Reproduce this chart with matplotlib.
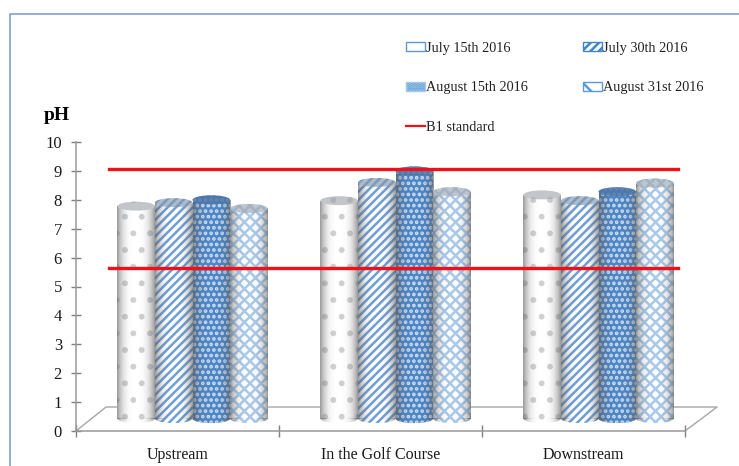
import numpy as np
import matplotlib
matplotlib.use('Agg')
import matplotlib.pyplot as plt
from matplotlib.lines import Line2D
from matplotlib.patches import Ellipse, Patch

categories = ['Upstream', 'In the Golf Course', 'Downstream']
series_names = ['July 15th 2016', 'July 30th 2016', 'August 15th 2016', 'August 31st 2016']
july15 = [7.78, 7.97, 8.17]
july30 = [7.9, 8.6, 7.97]
august15 = [8.0, 9.0, 8.28]
august31 = [7.7, 8.28, 8.58]
b1_upper = 9.07
b1_lower = 5.65
y_ticks = [0, 1, 2, 3, 4, 5, 6, 7, 8, 9, 10]

series = [july15, july30, august15, august31]
faces = ['#ffffff', '#ffffff', '#4f86c6', '#ffffff']
hatch_colors = ['#cdd1d6', '#6f9fd6', '#cfe2f5', '#a9c9ea']
hatches = ['.', '////', '...', 'xxx']
top_colors = ['#c2c5c9', '#a9bccf', '#4f78a8', '#bcc6d0']
top_hatch_colors = ['#aeb2b8', '#7f98b4', '#5f88b8', '#a4b2c2']
legend_faces = ['#ffffff', '#ffffff', '#5b9bd5', '#ffffff']
legend_edges = ['#5b9bd5', '#3f83c8', '#a4c8ea', '#5b9bd5']
legend_hatches = ['', '////', '.....', 'x']

plt.rcParams['font.family'] = ['Liberation Serif', 'DejaVu Serif']
plt.rcParams['hatch.linewidth'] = 1.8

fig = plt.figure(figsize=(7.39, 4.66), dpi=100)
ax = fig.add_axes([76 / 739, 35 / 466, 609 / 739, 289 / 466])

bar_width = 0.185
base = 0.43
cap = 0.31
shift = 0.074

# dark at both sides so the bars look round
t = np.linspace(-1, 1, 64)
shade = np.zeros((1, 64, 4))
shade[..., :3] = 0.35
shade[..., 3] = np.abs(t) ** 3 * 0.6


def put_shade(x0, x1, y0, y1, clip, z):
    im = ax.imshow(shade, extent=(x0, x1, y0, y1), aspect='auto', zorder=z, interpolation='bilinear')
    im.set_clip_path(clip)


for s, values in enumerate(series):
    for c, v in enumerate(values):
        x = c + 0.5 + shift + (s - 1.5) * bar_width
        x0, x1 = x - bar_width / 2, x + bar_width / 2
        z = 3 + s * 0.1
        foot = Ellipse((x, base), bar_width, cap, facecolor=faces[s], edgecolor=hatch_colors[s],
                       hatch=hatches[s], linewidth=0, zorder=z)
        ax.add_patch(foot)
        body = ax.bar(x, v - base, bar_width, bottom=base, color=faces[s], edgecolor=hatch_colors[s],
                      hatch=hatches[s], linewidth=0, zorder=z)[0]
        put_shade(x0, x1, base, v, body, z + 0.01)
        put_shade(x0, x1, base - cap / 2, base, foot, z + 0.01)
        ax.add_patch(Ellipse((x, v), bar_width, cap, facecolor=top_colors[s], edgecolor=top_hatch_colors[s],
                             hatch=hatches[s], linewidth=0, zorder=z + 0.02))

# 3d floor
ax.plot([0, 0.148, 3.158, 3.0], [0, 0.83, 0.83, 0], color='#a6a6a6', lw=1, clip_on=False, zorder=1)

line_x = [0.163, 2.965]
ax.plot(line_x, [b1_upper, b1_upper], color='#f01018', lw=2.4, zorder=5)
ax.plot(line_x, [b1_lower, b1_lower], color='#f01018', lw=2.4, zorder=5)

ax.set_xlim(0, 3)
ax.set_ylim(0, 10)
ax.set_yticks(y_ticks)
ax.set_xticks([0, 1, 2, 3])
ax.set_xticklabels([])
ax.set_xticks([0.5, 1.5, 2.5], minor=True)
ax.set_xticklabels(categories, minor=True, fontsize=11.5, color='#1a1a1a')
ax.tick_params(axis='x', which='major', direction='inout', length=8, color='#808080', width=1)
ax.tick_params(axis='x', which='minor', length=0, pad=11.5)
ax.tick_params(axis='y', direction='inout', length=7.2, color='#808080', width=1, labelsize=12,
               labelcolor='#1a1a1a', pad=6.5)
for side in ['top', 'right']:
    ax.spines[side].set_visible(False)
for side in ['left', 'bottom']:
    ax.spines[side].set_color('#999999')
    ax.spines[side].set_linewidth(1.1)

ax.text(-0.096, 10.9, 'pH', fontsize=14, fontweight='bold', ha='center', va='center', clip_on=False)

handles = [Patch(facecolor=legend_faces[s], edgecolor=legend_edges[s], hatch=legend_hatches[s], lw=1)
           for s in range(4)]
red = Line2D([0], [0], color='#f01018', lw=1.6)
# columns fill first, so this gives the rows July/July, August/August, B1
legend_handles = [handles[0], handles[2], red, handles[1], handles[3]]
legend_labels = [series_names[0], series_names[2], 'B1 standard', series_names[1], series_names[3]]
ax.legend(legend_handles, legend_labels, ncol=2, frameon=False, fontsize=10.3, loc='upper left',
          bbox_to_anchor=(406 / 739, 1 - 42 / 466), bbox_transform=fig.transFigure,
          handlelength=1.3, handleheight=0.6, handletextpad=0.1, labelspacing=1.85,
          columnspacing=3.88, borderpad=0, borderaxespad=0, labelcolor='#222222')

# blue frame, cut off by the image on the right and at the bottom
frame = '#7f9fcf'
fig.add_artist(Line2D([9.5 / 739, 9.5 / 739, 1], [0, 1 - 13.5 / 466, 1 - 13.5 / 466], color=frame, lw=1.2))

fig.savefig('out.png', dpi=100)
